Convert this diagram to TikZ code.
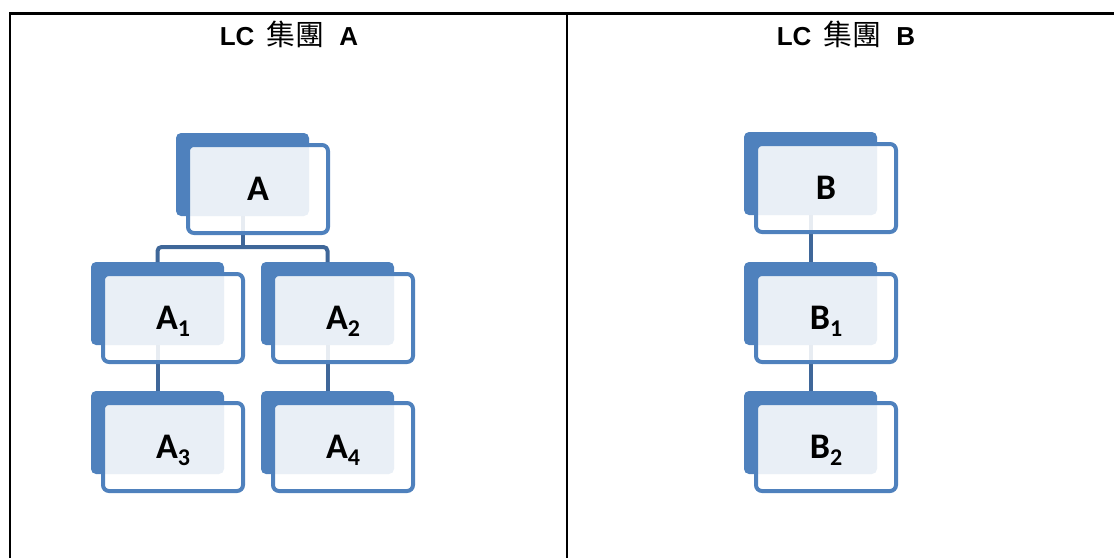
\documentclass[tikz,border=0pt]{standalone}
\usepackage{fontspec}
\setmainfont{Liberation Sans}
\newfontfamily\cjk{Noto Sans CJK TC}
\newfontfamily\lbl{Carlito}
\definecolor{boxblue}{HTML}{4F81BD}
\definecolor{connblue}{HTML}{3F6799}
\newcommand\subl[2]{#1\smash{\raisebox{-7pt}{\fontsize{24}{24}\selectfont #2}}}
\newcommand\ttl[1]{LC\kern12pt{\cjk\mdseries\fontsize{29}{30}\selectfont 集團}\kern15pt #1}
\begin{document}
\begin{tikzpicture}[x=1pt,y=-1pt,
  backbox/.style={fill=boxblue, draw=none, rounded corners=5pt, minimum width=133pt, minimum height=83pt, inner sep=0pt, outer sep=0pt},
  frontbox/.style={draw=boxblue, line width=4pt, fill=white, fill opacity=0.88, text opacity=1, rounded corners=6pt, minimum width=140pt, minimum height=88pt, inner sep=0pt, font=\lbl\bfseries\fontsize{36}{36}\selectfont},
  conn/.style={draw=connblue, line width=4pt, rounded corners=4pt},
  title/.style={anchor=base, inner sep=0pt, font=\bfseries\fontsize{26}{30}\selectfont},
  rule/.style={line width=2.5pt, black}]
\useasboundingbox (0,0) rectangle (1114,558);
% table lines
\draw[rule] (10,558) -- (10,13.5) -- (1114,13.5);
\draw[rule] (567,13.5) -- (567,558);
% titles
\node[title] (tA) at (289,45) {\ttl{A}};
\node[title] (tB) at (846,45) {\ttl{B}};
% back boxes
\node[backbox] (Aback)  at (242.5,174.5) {};
\node[backbox] (A1back) at (157.5,303.5) {};
\node[backbox] (A2back) at (327.5,303.5) {};
\node[backbox] (A3back) at (157.5,432.5) {};
\node[backbox] (A4back) at (327.5,432.5) {};
\node[backbox] (Bback)  at (810.5,173.5) {};
\node[backbox] (B1back) at (810.5,303.5) {};
\node[backbox] (B2back) at (810.5,432.5) {};
% connectors
\draw[conn] (Aback.south) -- (Aback.south |- 0,247);
\draw[conn] (A1back.north) |- (Aback.south |- 0,247) -| (A2back.north);
\draw[conn] (A1back.south) -- (A3back.north);
\draw[conn] (A2back.south) -- (A4back.north);
\draw[conn] (Bback.south) -- (B1back.north);
\draw[conn] (B1back.south) -- (B2back.north);
% front boxes
\node[frontbox] (A)  at (258,189) {A};
\node[frontbox] (A1) at (173,318) {\subl{A}{1}};
\node[frontbox] (A2) at (343,318) {\subl{A}{2}};
\node[frontbox] (A3) at (173,447) {\subl{A}{3}};
\node[frontbox] (A4) at (343,447) {\subl{A}{4}};
\node[frontbox] (B)  at (826,188) {B};
\node[frontbox] (B1) at (826,318) {\subl{B}{1}};
\node[frontbox] (B2) at (826,447) {\subl{B}{2}};
\end{tikzpicture}
\end{document}
